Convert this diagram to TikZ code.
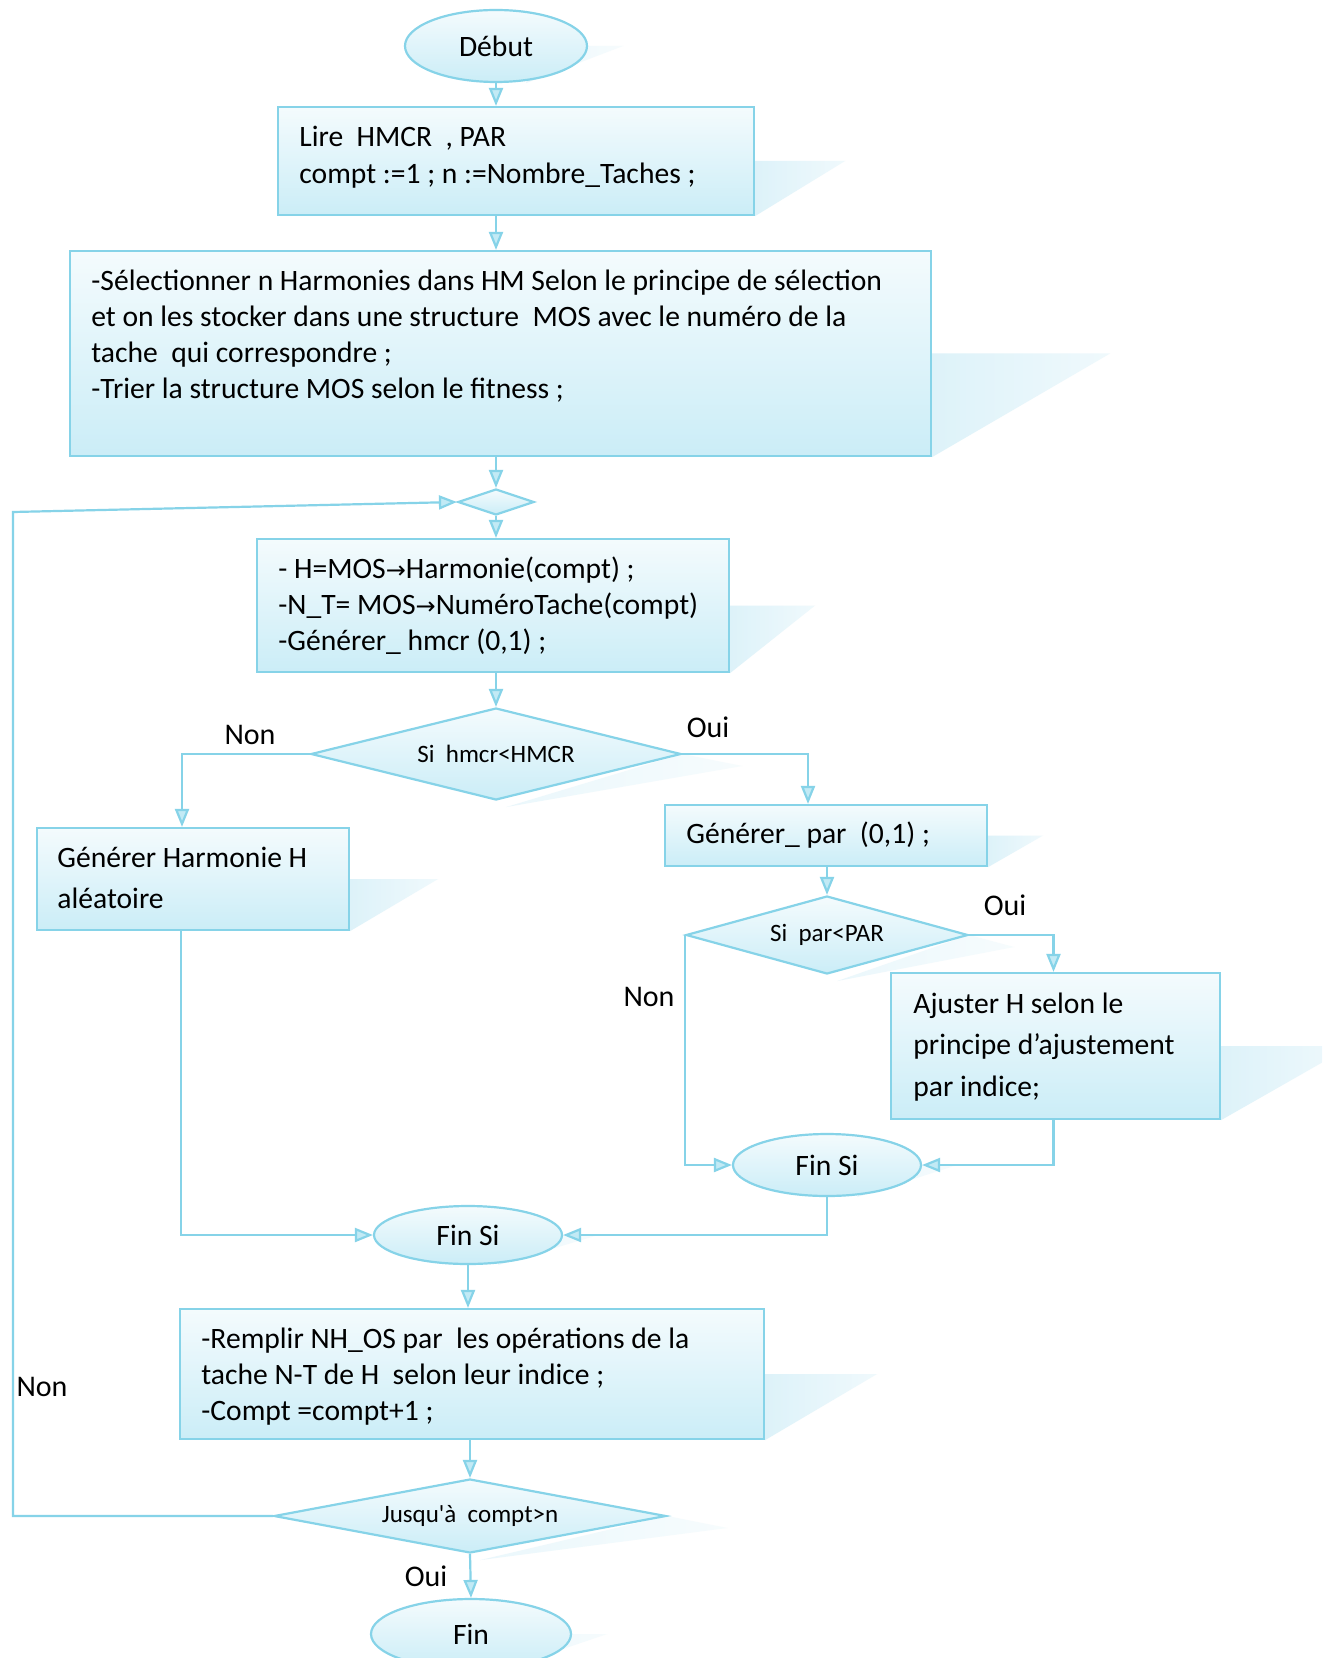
\documentclass[tikz,border=0pt]{standalone}
\usepackage{fontspec}
\setmainfont{Carlito}
\newfontfamily\symfont{DejaVu Sans}
\usetikzlibrary{arrows.meta,shapes.geometric,backgrounds,calc}

\definecolor{edgecol}{HTML}{86D3E8}
\definecolor{filltop}{HTML}{F4FBFD}
\definecolor{fillbot}{HTML}{CBEDF7}
\definecolor{shadecol}{HTML}{DDF2F9}
\definecolor{tipfill}{HTML}{C2EAF5}

\newcommand{\ra}{{\symfont\fontsize{12}{12}\selectfont →}}

\tikzset{
  shapebase/.style={draw=edgecol, line width=1.1pt, top color=filltop, bottom color=fillbot, inner sep=0pt},
  procbox/.style={shapebase, rectangle},
  termnode/.style={shapebase, ellipse, font=\fontsize{14.8}{16}\selectfont},
  testnode/.style={shapebase, diamond, font=\fontsize{12.5}{14}\selectfont},
  boxtext/.style={anchor=west, align=left, inner sep=0pt},
  flow/.style={draw=edgecol, line width=1.1pt, -{Triangle[length=9pt,width=7pt,fill=tipfill]}},
  branchlbl/.style={font=\fontsize{15}{16}\selectfont, inner sep=0pt},
  castshadow/.style={left color=shadecol, right color=white!55!shadecol, draw=none},
  faintshadow/.style={left color=white!40!shadecol, right color=white!75!shadecol, draw=none},
}

\begin{document}
\begin{tikzpicture}[x=0.5pt, y=-0.5pt]
\useasboundingbox (0,0) rectangle (1322,1658);
\clip (0,0) rectangle (1322,1658);

% terminals
\node[termnode, minimum width=91pt, minimum height=36pt] (debut) at (496,46) {Début};
\node[termnode, minimum width=94pt, minimum height=31pt] (fs1) at (827,1165) {Fin Si};
\node[termnode, minimum width=94pt, minimum height=29pt] (fs2) at (468,1235) {Fin Si};
\node[termnode, minimum width=100pt, minimum height=35pt] (fin) at (471,1634) {Fin};

% process boxes
\node[procbox, minimum width=238pt, minimum height=54pt] (b1) at (516,161) {};
\node[procbox, minimum width=430.5pt, minimum height=102.5pt] (b2) at (500.5,353.5) {};
\node[procbox, minimum width=236pt, minimum height=66.5pt] (b3) at (493,605.5) {};
\node[procbox, minimum width=156pt, minimum height=51pt] (b4) at (193,879) {};
\node[procbox, minimum width=161pt, minimum height=30.5pt] (b5) at (826,835.5) {};
\node[procbox, minimum width=164.5pt, minimum height=73pt] (b6) at (1055.5,1046) {};
\node[procbox, minimum width=292pt, minimum height=65pt] (b7) at (472,1374) {};

% tests
\node[testnode, aspect=2.92, minimum width=38pt, minimum height=13pt] (sd) at (496,502) {};
\node[testnode, aspect=4.02, minimum width=185pt, minimum height=46pt] (d1) at (496,754) {Si\ \ hmcr<HMCR};
\node[testnode, aspect=3.62, minimum width=141pt, minimum height=39pt] (d2) at (827,935) {Si\ \ par<PAR};
\node[testnode, aspect=5.3, minimum width=196pt, minimum height=37pt] (d3) at (470,1516) {Jusqu\textquotesingle à\ \ compt>n};

% box contents
\begin{scope}[font=\fontsize{14.8}{18.5}\selectfont]
\node[boxtext] (t1) at (299,157) {Lire\ \ HMCR\ \ , PAR\\compt :=1 ; n :=Nombre\_Taches ;};
\end{scope}
\begin{scope}[font=\fontsize{14.8}{18}\selectfont]
\node[boxtext] (t2) at (91,336) {-Sélectionner n Harmonies dans HM Selon le principe de sélection\\
et on les stocker dans une structure\ \ MOS avec le numéro de la\\
tache\ \ qui correspondre ;\\
-Trier la structure MOS selon le fitness ;};
\node[boxtext] (t3) at (278,606) {- H=MOS\ra Harmonie(compt) ;\\
-N\_T= MOS\ra NuméroTache(compt)\\
-Générer\_ hmcr (0,1) ;};
\node[boxtext] (t5) at (686,835) {Générer\_ par\ \ (0,1) ;};
\node[boxtext] (t7) at (201,1377) {-Remplir NH\_OS par\ \ les opérations de la\\
tache N-T de H\ \ selon leur indice ;\\
-Compt =compt+1 ;};
\end{scope}
\begin{scope}[font=\fontsize{14.8}{20.5}\selectfont]
\node[boxtext] (t4) at (57,877.5) {Générer Harmonie H\\aléatoire};
\end{scope}
\begin{scope}[font=\fontsize{14.8}{20.75}\selectfont]
\node[boxtext] (t6) at (913,1047) {Ajuster H selon le\\principe d’ajustement\\par indice;};
\end{scope}

% loop corner
\coordinate (loopx) at (13,512);

% connectors
\draw[flow] (debut.south) -- (debut.south |- b1.north);
\draw[flow] (b1.south -| sd.north) -- (b2.north -| sd.north);
\draw[flow] (b2.south -| sd.north) -- (sd.north);
\draw[flow] (sd.south) -- (sd.south |- b3.north);
\draw[flow] (b3.south -| d1.north) -- (d1.north);
\draw[flow] (d1.west) -| ($(b4.north)+(-11,0)$);
\draw[flow] (d1.east) -| ($(b5.north)+(-18,0)$);
\draw[flow] (b5.south -| d2.north) -- (d2.north);
\draw[flow] (d2.east) -| ($(b6.north)+(-2,0)$);
\draw[flow] (d2.west) |- (fs1.west);
\draw[flow] ($(b6.south)+(-2,0)$) |- (fs1.east);
\draw[flow] (fs1.south) |- (fs2.east);
\draw[flow] ($(b4.south)+(-12,0)$) |- (fs2.west);
\draw[flow] (fs2.south) -- (fs2.south |- b7.north);
\draw[flow] (b7.south -| d3.north) -- (d3.north);
\draw[flow] (d3.west) -- (d3.west -| loopx) -- (loopx) -- (sd.west);
\draw[flow] (d3.south) -- (fin.north);

% branch labels
\node[branchlbl] (l1) at (250,735) {Non};
\node[branchlbl] (l2) at (708,727) {Oui};
\node[branchlbl] (l3) at (1005,905) {Oui};
\node[branchlbl] (l4) at (649,997) {Non};
\node[branchlbl] (l5) at (42,1387) {Non};
\node[branchlbl] (l6) at (426,1576) {Oui};

% white page and cast shadows behind the shapes
\begin{scope}[on background layer]
\clip (0,0) rectangle (1322,1658);
\fill[white] (0,0) rectangle (1322,1658);
\foreach \b/\e in {b1/90, b2/178, b3/85, b4/88, b5/55, b6/130, b7/112}{
  \shade[castshadow] (\b.east) -- ($(\b.east)+(\e,0)$) -- (\b.south east) -- cycle;
}
\foreach \t in {debut, fs1, fs2, fin}{
  \shade[faintshadow] ($(\t.center)+(50,0)$) -- ($(\t.east)+(35,0)$) -- ($(\t.south)+(30,0)$) -- cycle;
}
\foreach \d/\e in {d1/60, d2/45, d3/60}{
  \shade[faintshadow] (\d.east) -- ($(\d.east)+(\e,12)$) -- ($(\d.south)+(10,6)$) -- cycle;
}
\end{scope}
\end{tikzpicture}
\end{document}
